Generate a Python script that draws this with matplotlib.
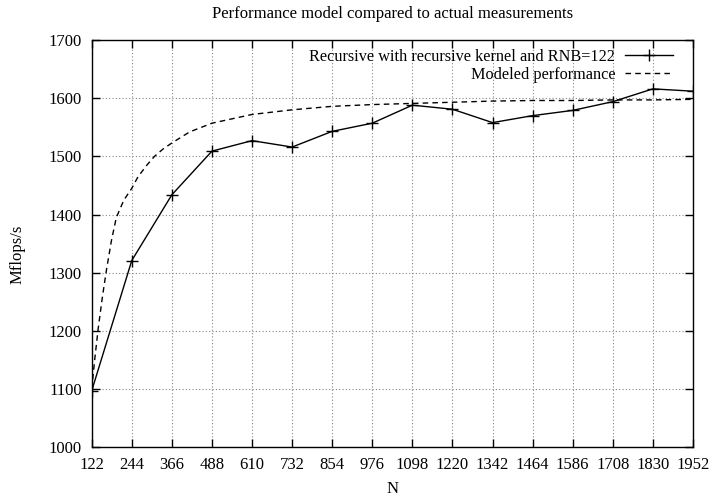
import matplotlib
matplotlib.use("Agg")
import matplotlib.pyplot as plt

n_measured = [122, 244, 366, 488, 610, 732, 854, 976, 1098, 1220,
              1342, 1464, 1586, 1708, 1830, 1952]
mflops_measured = [1097, 1321, 1434, 1509, 1527, 1516, 1543, 1557, 1588, 1581,
                   1558, 1570, 1579, 1594, 1616, 1612]

# modeled performance curve
n_model = [122, 132, 142, 155, 167, 182, 197, 220, 244, 263, 290, 313,
           340, 366, 420, 488, 610, 732, 854, 976, 1098, 1220, 1342, 1464,
           1586, 1708, 1830, 1952]
mflops_model = [1100, 1155, 1205, 1260, 1305, 1355, 1395, 1425, 1445,
                1465, 1485, 1500, 1513, 1523, 1542, 1557, 1572, 1580, 1586,
                1589, 1591, 1593, 1595, 1596, 1596, 1597, 1597, 1598]

xticks = list(range(122, 1953, 122))
yticks = list(range(1000, 1701, 100))

plt.rcParams["font.family"] = ["Liberation Serif", "DejaVu Serif"]

fig = plt.figure(figsize=(7.13, 4.98), dpi=100)
ax = fig.add_axes([0.1286, 0.1018, 0.8433, 0.8179])

ax.plot(n_measured, mflops_measured, color="black", lw=1.0, marker="+",
        markersize=8, markeredgewidth=1.0,
        label="Recursive with recursive kernel and RNB=122")
ax.plot(n_model, mflops_model, color="black", lw=1.0, ls=(0, (4, 3)),
        label="Modeled performance")

ax.set_xlim(122, 1952)
ax.set_ylim(1000, 1700)
ax.set_xticks(xticks)
ax.set_yticks(yticks)
ax.tick_params(direction="in", length=6, width=1.0, top=True, right=True,
               labelsize=12, pad=7)
ax.grid(True, ls=(0, (1, 2)), color="#888888", lw=0.8)
for s in ax.spines.values():
    s.set_linewidth(1.0)

ax.set_title("Performance model compared to actual measurements",
             fontsize=12, pad=16)
ax.set_xlabel("N", fontsize=12, labelpad=6)
fig.text(0.024, 0.49, "Mflops/s", fontsize=12, rotation=90,
         ha="center", va="center")

leg = ax.legend(loc="upper right", bbox_to_anchor=(0.9667, 0.978),
                frameon=False, markerfirst=False, fontsize=11.7,
                handlelength=2.95, borderaxespad=0, borderpad=0,
                labelspacing=0.1, handletextpad=0.6)

fig.savefig("out.png", dpi=100)
